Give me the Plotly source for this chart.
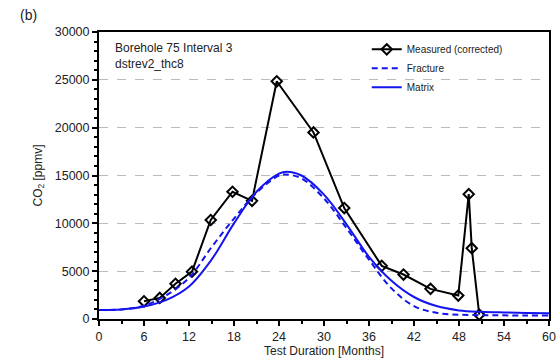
import plotly.graph_objects as go

# Measured (corrected)
meas_x = [6.0, 8.1, 10.2, 12.4, 14.9, 17.8, 20.4, 23.7, 28.6, 32.7, 37.7, 40.6, 44.2, 47.9, 49.3, 49.7, 50.7]
meas_y = [1850, 2200, 3680, 4950, 10350, 13300, 12350, 24850, 19500, 11600, 5550, 4650, 3150, 2450, 13050, 7400, 450]

# Model curves
model_x = [0, 3, 6, 9, 12, 15, 18, 21, 24, 25, 27, 30, 33, 36, 39, 42, 45, 48, 51, 54, 57, 60]
fracture_y = [950, 1000, 1400, 2500, 4300, 7500, 10500, 13200, 15000, 15100, 14700, 12600, 9500, 6200, 3200, 1350, 650, 450, 400, 380, 370, 360]
matrix_y = [950, 1000, 1300, 2000, 3400, 6200, 10000, 13300, 15200, 15400, 15000, 13000, 9900, 6500, 4000, 2300, 1350, 900, 750, 680, 630, 600]

x_ticks = [0, 6, 12, 18, 24, 30, 36, 42, 48, 54, 60]
y_ticks = [0, 5000, 10000, 15000, 20000, 25000, 30000]
y_labels = ["0", "5000", "10000", "15000", "20000", "25000", "30000"]

FONT = "Liberation Sans, Arial, sans-serif"
BLUE = "#1414ee"

fig = go.Figure()
fig.add_trace(go.Scatter(
    x=meas_x, y=meas_y, mode="lines+markers", name="Measured (corrected)",
    line=dict(color="black", width=2),
    marker=dict(symbol="diamond-open", size=8, color="black", line=dict(width=2, color="black")),
))
fig.add_trace(go.Scatter(
    x=model_x, y=fracture_y, mode="lines", name="Fracture", line_shape="spline",
    line=dict(color=BLUE, width=2, dash="6px,4px"),
))
fig.add_trace(go.Scatter(
    x=model_x, y=matrix_y, mode="lines", name="Matrix", line_shape="spline",
    line=dict(color=BLUE, width=2),
))

fig.update_layout(
    width=560, height=363,
    margin=dict(l=99, r=11, t=32, b=44),
    paper_bgcolor="white", plot_bgcolor="white",
    font=dict(family=FONT, size=12, color="#222"),
    showlegend=True,
    legend=dict(
        x=0.595, y=0.99, xanchor="left", yanchor="top",
        bgcolor="rgba(0,0,0,0)", font=dict(size=10, color="#222"),
        itemwidth=30, tracegroupgap=0,
    ),
    xaxis=dict(
        range=[0, 60], tickvals=x_ticks, ticks="outside", ticklen=5, tickwidth=1.5,
        tickcolor="black", showline=True, linecolor="black", linewidth=2, mirror=True,
        showgrid=False, zeroline=False, automargin=False, tickfont=dict(size=12.5),
        minor=dict(dtick=3, ticks="outside", ticklen=3, tickcolor="black", showgrid=False),
        title=dict(text="Test Duration [Months]", font=dict(size=12), standoff=4),
    ),
    yaxis=dict(
        range=[0, 30000], tickvals=y_ticks, ticktext=y_labels, ticks="outside", ticklen=5,
        tickwidth=1.5, tickfont=dict(size=12.5),
        tickcolor="black", showline=True, linecolor="black", linewidth=2, mirror=True,
        showgrid=True, gridcolor="#bbbbbb", griddash="dash", gridwidth=1, zeroline=False,
        automargin=False,
        minor=dict(dtick=1000, ticks="outside", ticklen=3, tickcolor="black", showgrid=False),
        title=dict(text="CO<sub>2</sub> [ppmv]", font=dict(size=12), standoff=10),
    ),
    annotations=[
        dict(text="(b)", xref="paper", yref="paper", x=-0.18, y=1.059, xanchor="left",
             yanchor="middle", showarrow=False, font=dict(size=14, color="#222")),
        dict(text="Borehole 75 Interval 3<br>dstrev2_thc8", xref="paper", yref="paper",
             x=0.03, y=0.975, xanchor="left", yanchor="top", align="left",
             showarrow=False, font=dict(size=12, color="#222")),
    ],
)

fig.write_html("out.html")
